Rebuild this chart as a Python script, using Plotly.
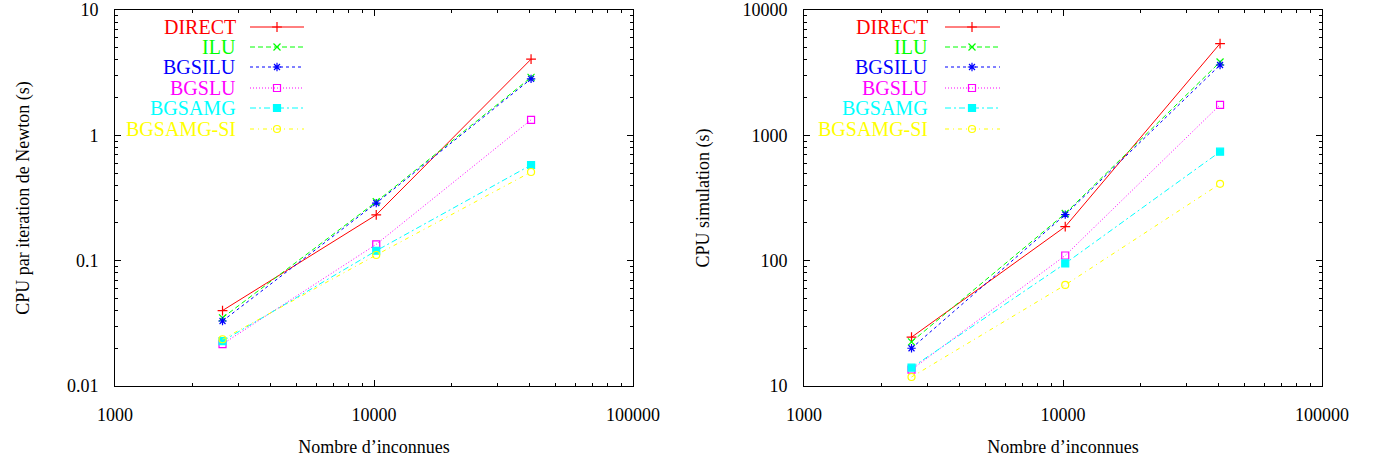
import plotly.graph_objects as go

# ---------------- data ----------------
unknowns = [2601, 10201, 40401]
series_names = ["DIRECT", "ILU", "BGSILU", "BGSLU", "BGSAMG", "BGSAMG-SI"]

newton_direct = [0.040, 0.232, 4.05]
newton_ilu = [0.035, 0.295, 2.90]
newton_bgsilu = [0.033, 0.288, 2.82]
newton_bgslu = [0.0216, 0.135, 1.33]
newton_bgsamg = [0.0228, 0.120, 0.58]
newton_bgsamg_si = [0.0236, 0.111, 0.51]

sim_direct = [24.5, 187, 5400]
sim_ilu = [22.5, 238, 3850]
sim_bgsilu = [20.0, 233, 3640]
sim_bgslu = [13.5, 110, 1750]
sim_bgsamg = [14.0, 95, 740]
sim_bgsamg_si = [11.8, 64, 410]

x_tickvals = [1000, 10000, 100000]
x_ticktext = ["1000", "10000", "100000"]
y1_tickvals = [0.01, 0.1, 1, 10]
y1_ticktext = ["0.01", "0.1", "1", "10"]
y2_tickvals = [10, 100, 1000, 10000]
y2_ticktext = ["10", "100", "1000", "10000"]

# ---------------- styles ----------------
W, H = 1377, 464
FONT = "Liberation Serif, Times New Roman, serif"
styles = [
    dict(color="#ff0000", dash="solid", symbol="cross-thin-open"),
    dict(color="#00ff00", dash="5px,3px", symbol="x-thin-open"),
    dict(color="#0000ff", dash="3px,3px", symbol="asterisk-open"),
    dict(color="#ff00ff", dash="1px,2px", symbol="square-open"),
    dict(color="#00ffff", dash="6px,3px,2px,3px", symbol="square"),
    dict(color="#ffff00", dash="4px,4px,1px,4px", symbol="circle-open"),
]

newton = [newton_direct, newton_ilu, newton_bgsilu, newton_bgslu, newton_bgsamg, newton_bgsamg_si]
sim = [sim_direct, sim_ilu, sim_bgsilu, sim_bgslu, sim_bgsamg, sim_bgsamg_si]

fig = go.Figure()

def add_series(vals_list, xa, ya):
    for name, vals, st in zip(series_names, vals_list, styles):
        fig.add_trace(go.Scatter(
            x=unknowns, y=vals, mode="lines+markers", name=name,
            xaxis=xa, yaxis=ya, showlegend=False,
            line=dict(color=st["color"], width=1, dash=st["dash"]),
            marker=dict(symbol=st["symbol"], size=7, color=st["color"],
                        line=dict(color=st["color"], width=1.2)),
        ))

add_series(newton, "x", "y")
add_series(sim, "x2", "y2")

# ---------------- custom gnuplot-like legend (pixel overlay axis) ----------------
row_y = [27, 47, 67, 88, 108, 129]
legend_pos = [dict(text_right=238, x0=250, x1=304, xm=277),
              dict(text_right=930, x0=945, x1=1000, xm=972)]
annotations = []
for lp in legend_pos:
    for name, st, yy in zip(series_names, styles, row_y):
        fig.add_trace(go.Scatter(
            x=[lp["x0"], lp["x1"]], y=[yy, yy], mode="lines", xaxis="x3", yaxis="y3",
            showlegend=False, hoverinfo="skip",
            line=dict(color=st["color"], width=1, dash=st["dash"])))
        fig.add_trace(go.Scatter(
            x=[lp["xm"]], y=[yy], mode="markers", xaxis="x3", yaxis="y3",
            showlegend=False, hoverinfo="skip",
            marker=dict(symbol=st["symbol"], size=7, color=st["color"],
                        line=dict(color=st["color"], width=1.2))))
        annotations.append(dict(
            x=lp["text_right"], y=yy, xref="x3", yref="y3", text=name, showarrow=False,
            xanchor="right", yanchor="middle",
            font=dict(family=FONT, size=20, color=st["color"])))

# ---------------- axes ----------------
def minor_vals(lo, hi):
    out = []
    d = lo
    while d < hi:
        out += [d * k for k in range(2, 10)]
        d *= 10
    return out

def log_axis(tickvals, ticktext, rng_lo, rng_hi, domain, anchor, standoff):
    import math
    return dict(
        type="log", domain=domain, anchor=anchor,
        range=[math.log10(rng_lo), math.log10(rng_hi)],
        tickmode="array", tickvals=tickvals, ticktext=ticktext,
        ticks="inside", ticklen=6, tickwidth=1, tickcolor="black",
        showline=True, linecolor="black", linewidth=1, mirror="allticks",
        showgrid=False, zeroline=False,
        minor=dict(ticks="inside", ticklen=3, tickwidth=1, tickcolor="black",
                   tickmode="array", tickvals=minor_vals(rng_lo, rng_hi), showgrid=False),
        tickfont=dict(family=FONT, size=18, color="black"),
        ticklabelstandoff=standoff,
    )

ydom = [1 - 386 / H, 1 - 10 / H]
xdom1 = [115 / W, 633 / W]
xdom2 = [804 / W, 1322 / W]

xa1 = log_axis(x_tickvals, x_ticktext, 1000, 100000, xdom1, "y", 12)
xa2 = log_axis(x_tickvals, x_ticktext, 1000, 100000, xdom2, "y2", 12)
ya1 = log_axis(y1_tickvals, y1_ticktext, 0.01, 10, ydom, "x", 12)
ya2 = log_axis(y2_tickvals, y2_ticktext, 10, 10000, ydom, "x2", 12)

title_font = dict(family=FONT, size=18, color="black")
xa1["title"] = dict(text="Nombre d’inconnues", font=title_font, standoff=16)
xa2["title"] = dict(text="Nombre d’inconnues", font=title_font, standoff=16)
ya1["title"] = dict(text="CPU par iteration de Newton (s)", font=title_font, standoff=32)
ya2["title"] = dict(text="CPU simulation (s)", font=title_font, standoff=28)
for a in (xa1, xa2, ya1, ya2):
    a["automargin"] = False

fig.update_layout(
    width=W, height=H,
    margin=dict(l=0, r=0, t=0, b=0),
    paper_bgcolor="white", plot_bgcolor="rgba(0,0,0,0)",
    showlegend=False,
    xaxis=xa1, yaxis=ya1, xaxis2=xa2, yaxis2=ya2,
    xaxis3=dict(domain=[0, 1], range=[0, W], anchor="y3", visible=False, fixedrange=True),
    yaxis3=dict(domain=[0, 1], range=[H, 0], anchor="x3", visible=False, fixedrange=True),
    annotations=annotations,
)

fig.write_html("out.html")
